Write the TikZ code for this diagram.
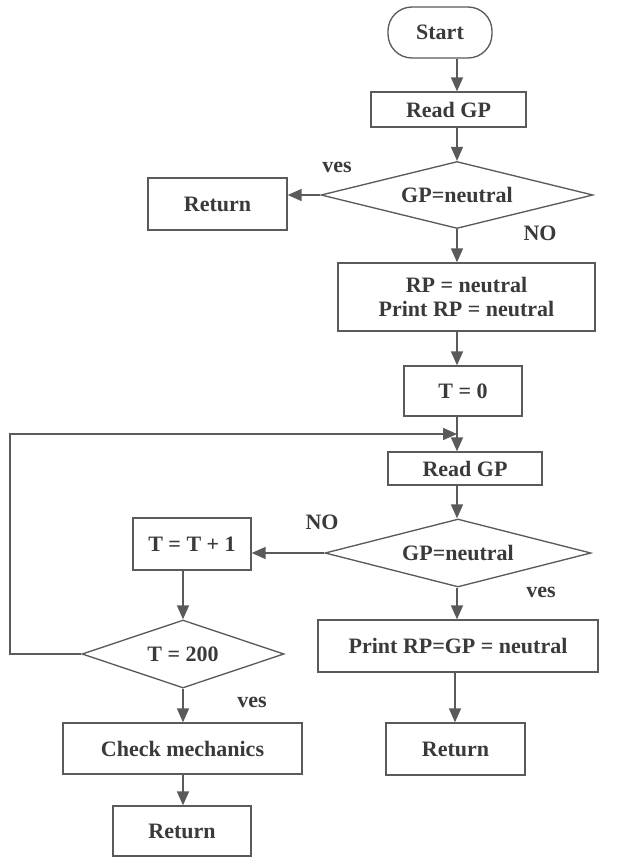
\documentclass[tikz,border=0pt]{standalone}
\usepackage{fontspec}
\setmainfont{Liberation Serif}
\usetikzlibrary{arrows.meta,shapes.geometric}
\definecolor{ln}{HTML}{5A5A5A}
\definecolor{tx}{HTML}{3A3A3A}
\begin{document}
\begin{tikzpicture}[x=0.75pt,y=-0.75pt,
  every node/.style={text=tx,font=\fontsize{16.5}{18}\selectfont\bfseries},
  box/.style={draw=ln,line width=1pt,inner sep=0pt,align=center},
  dia/.style={draw=ln,line width=1pt,diamond,inner sep=0pt,aspect=4},
  arr/.style={draw=ln,line width=1.2pt,-{Triangle[length=10.5pt,width=9pt]}},
  lbl/.style={inner sep=0pt}]
\useasboundingbox[fill=white] (0,0) rectangle (618,858);
% nodes
\node[box,rounded corners=18pt,minimum width=104*0.75pt,minimum height=51*0.75pt] (start) at (440,32.5) {Start};
\node[box,minimum width=155*0.75pt,minimum height=35*0.75pt] (read1) at (448.5,109.5) {Read GP};
\node[dia,minimum width=272*0.75pt,minimum height=67*0.75pt] (dia1) at (457,195) {GP=neutral};
\node[box,minimum width=139*0.75pt,minimum height=52*0.75pt] (ret1) at (217.5,204) {Return};
\node[box,minimum width=257*0.75pt,minimum height=68*0.75pt] (rp) at (466.5,297) {RP = neutral\\Print RP = neutral};
\node[box,minimum width=118*0.75pt,minimum height=50*0.75pt] (t0) at (463,391) {T = 0};
\node[box,minimum width=154*0.75pt,minimum height=33*0.75pt] (read2) at (465,468.5) {Read GP};
\node[dia,minimum width=266*0.75pt,minimum height=68*0.75pt] (dia2) at (458,553) {GP=neutral};
\node[box,minimum width=118*0.75pt,minimum height=52*0.75pt] (tinc) at (192,544) {T = T + 1};
\node[dia,aspect=3,minimum width=202*0.75pt,minimum height=68*0.75pt] (dia3) at (183,654) {T = 200};
\node[box,minimum width=280*0.75pt,minimum height=52*0.75pt] (prt) at (458,646) {Print RP=GP = neutral};
\node[box,minimum width=239*0.75pt,minimum height=51*0.75pt] (check) at (182.5,748.5) {Check mechanics};
\node[box,minimum width=138*0.75pt,minimum height=50*0.75pt] (ret2) at (182,831) {Return};
\node[box,minimum width=139*0.75pt,minimum height=52*0.75pt] (ret3) at (455.5,749) {Return};
% labels
\node[lbl] (y1) at (337,167) {ves};
\node[lbl] (n1) at (540,233) {NO};
\node[lbl] (n2) at (322,522) {NO};
\node[lbl] (y2) at (541,592) {ves};
\node[lbl] (y3) at (252,702) {ves};
% spine coordinates
\coordinate (sp) at (457,0);
\coordinate (sl) at (183,0);
\coordinate (sr) at (455,0);
\coordinate (lc) at (10,434);
\coordinate (jn) at (457,434);
% connectors
\draw[arr] (start.south -| sp) -- (read1.north -| sp);
\draw[arr] (read1.south -| sp) -- (dia1.north);
\draw[arr] (dia1.west) -- (dia1.west -| ret1.east);
\draw[arr] (dia1.south) -- (rp.north -| sp);
\draw[arr] (rp.south -| sp) -- (t0.north -| sp);
\draw[arr] (t0.south -| sp) -- (read2.north -| sp);
\draw[arr] (dia3.west) -| (lc) -- (jn);
\draw[arr] (read2.south -| sp) -- (dia2.north -| sp);
\draw[arr] (dia2.west) -- (dia2.west -| tinc.east);
\draw[arr] (tinc.south -| sl) -- (dia3.north -| sl);
\draw[arr] (dia3.south -| sl) -- (check.north -| sl);
\draw[arr] (check.south -| sl) -- (ret2.north -| sl);
\draw[arr] (dia2.south -| sp) -- (prt.north -| sp);
\draw[arr] (prt.south -| sr) -- (ret3.north -| sr);
\end{tikzpicture}
\end{document}
